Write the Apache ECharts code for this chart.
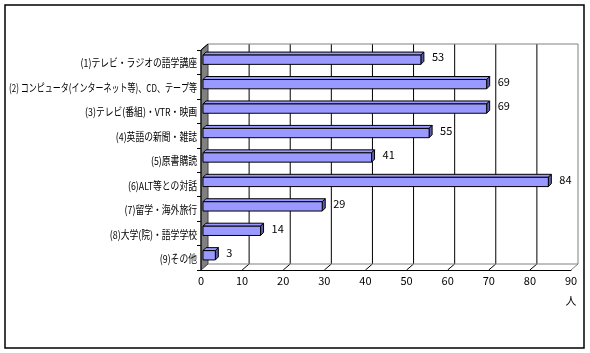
<!DOCTYPE html>
<html>
<head>
<meta charset="utf-8">
<script src="https://cdn.jsdelivr.net/npm/echarts@6/dist/echarts.min.js"></script>
<style>html,body{margin:0;padding:0;background:#fff}#c{width:590px;height:353px}</style>
</head>
<body>
<div id="c"></div>
<script>
const categories = [
  "(1)テレビ・ラジオの語学講座",
  "(2) コンピュータ(インターネット等)、CD、テープ等",
  "(3)テレビ(番組)・VTR・映画",
  "(4)英語の新聞・雑誌",
  "(5)原書購読",
  "(6)ALT等との対話",
  "(7)留学・海外旅行",
  "(8)大学(院)・語学学校",
  "(9)その他"
];
const values = [53, 69, 69, 55, 41, 84, 29, 14, 3];
const xTicks = [0, 10, 20, 30, 40, 50, 60, 70, 80, 90];
const unitLabel = "人";

const FONT = '"Noto Sans CJK JP", sans-serif';
const LABEL_FONT = '11px ' + FONT;
const LABEL_SCALE = 0.8;
const DX = 7, DY = -6;      // wall depth
const OX = 2, OY = -2.5;    // bar offset into depth
const BDX = 3, BDY = -3;    // bar depth
const LABEL_GAP = 4, LABEL_MAXW = 188;

const measureCtx = document.createElement('canvas').getContext('2d');
measureCtx.font = LABEL_FONT;

const chart = echarts.init(document.getElementById('c'));

function renderWalls(params, api) {
  const cs = params.coordSys;
  const x = cs.x, y = cs.y, w = cs.width, h = cs.height;
  const ch = [];
  ch.push({type:'polygon', shape:{points:[[x,y],[x+DX,y+DY],[x+DX,y+h+DY],[x,y+h]]},
    style:{fill:'#808080', stroke:'#404040', lineWidth:1}});
  ch.push({type:'line', shape:{x1:x,y1:y,x2:x,y2:y+h}, style:{stroke:'#000', lineWidth:1}});
  ch.push({type:'line', shape:{x1:x,y1:y,x2:x+DX,y2:y+DY}, style:{stroke:'#000', lineWidth:1}});
  xTicks.forEach(function (v) {
    const px = api.coord([v, 0])[0];
    if (v > xTicks[0] && v < xTicks[xTicks.length-1]) {
      ch.push({type:'line', shape:{x1:px+DX,y1:y+DY,x2:px+DX,y2:y+h+DY}, style:{stroke:'#000', lineWidth:1}});
      ch.push({type:'line', shape:{x1:px,y1:y+h,x2:px+DX,y2:y+h+DY}, style:{stroke:'#000', lineWidth:1}});
    }
  });
  ch.push({type:'polyline', shape:{points:[[x+DX,y+DY],[x+w+DX,y+DY],[x+w+DX,y+h+DY],[x+DX,y+h+DY]]},
    style:{stroke:'#808080', fill:null, lineWidth:1}});
  ch.push({type:'line', shape:{x1:x+w,y1:y+h,x2:x+w+DX,y2:y+h+DY}, style:{stroke:'#808080', lineWidth:1}});
  return {type:'group', children:ch};
}

function renderLabel(params, api) {
  const idx = api.value(1);
  const p = api.coord([0, idx]);
  const txt = categories[idx];
  const w = measureCtx.measureText(txt).width * LABEL_SCALE;
  const s = w > LABEL_MAXW ? LABEL_SCALE * LABEL_MAXW / w : LABEL_SCALE;
  return {type:'text', x: p[0] - LABEL_GAP, y: p[1] + 1, scaleX: s,
    style:{text: txt, x: 0, y: 0, align:'right', verticalAlign:'middle', fill:'#000', font: LABEL_FONT}};
}

function renderBar(params, api) {
  const val = api.value(0), idx = api.value(1);
  const p0 = api.coord([0, idx]), p1 = api.coord([val, idx]);
  const band = api.size([0, 1])[1];
  const bh = band * 0.38;
  const x0 = p0[0] + OX, x1 = p1[0] + OX;
  const yt = p0[1] + OY - bh / 2, yb = yt + bh;
  return {type:'group', children:[
    {type:'polygon', shape:{points:[[x0,yt],[x0+BDX,yt+BDY],[x1+BDX,yt+BDY],[x1,yt]]},
      style:{fill:'#9999ff', stroke:'#000', lineWidth:1}},
    {type:'polygon', shape:{points:[[x1,yt],[x1+BDX,yt+BDY],[x1+BDX,yb+BDY],[x1,yb]]},
      style:{fill:'#5f5fa8', stroke:'#000', lineWidth:1}},
    {type:'rect', shape:{x:x0,y:yt,width:x1-x0,height:bh},
      style:{fill:'#9999ff', stroke:'#000', lineWidth:1}},
    {type:'text', style:{text:String(val), x:x1+BDX+8, y:yt+bh/2+BDY/2 - 1, verticalAlign:'middle',
      fill:'#000', font:'11px ' + FONT}}
  ]};
}

chart.setOption({
  animation: false,
  backgroundColor: '#fff',
  grid: {left: 201, top: 50, width: 370, height: 220, containLabel: false, outerBoundsMode: 'none'},
  xAxis: {
    type: 'value', min: 0, max: 90, interval: 10,
    axisLine: {show: true, lineStyle: {color: '#000', width: 1}},
    axisTick: {show: false},
    splitLine: {show: false},
    axisLabel: {color: '#000', fontSize: 11, fontFamily: FONT, margin: 5},
    name: unitLabel, nameLocation: 'end', nameGap: 0,
    nameTextStyle: {color: '#000', fontSize: 11, fontFamily: FONT, align: 'center', verticalAlign: 'top', padding: [25, 0, 0, 0]}
  },
  yAxis: {
    type: 'category', data: categories, inverse: true,
    axisLine: {show: false},
    axisTick: {show: true, length: 4, lineStyle: {color: '#000'}},
    axisLabel: {show: false}
  },
  graphic: [{type:'rect', shape:{x:5, y:5, width:579, height:343}, style:{fill:null, stroke:'#000', lineWidth:1.5}, z:100}],
  series: [
    {type:'custom', name:'walls', z:1, renderItem: renderWalls, data:[[0,0]], encode:{x:0,y:1}, silent:true},
    {type:'custom', name:'labels', z:3, renderItem: renderLabel, data: categories.map(function(c,i){return [0,i];}), encode:{x:0,y:1}, silent:true, clip:false},
    {type:'custom', name:'values', z:2, renderItem: renderBar, data: values.map(function(v,i){return [v,i];}), encode:{x:0,y:1}}
  ]
});
</script>
</body>
</html>
